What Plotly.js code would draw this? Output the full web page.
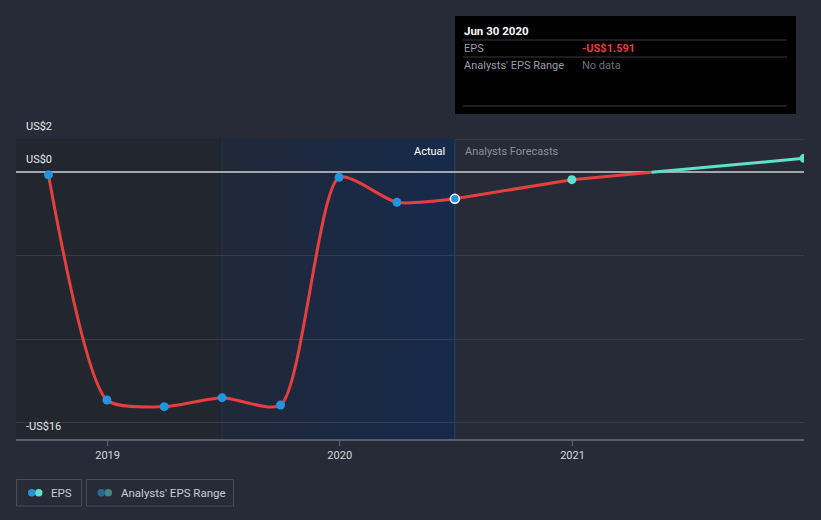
<!DOCTYPE html>
<html>
<head>
<meta charset="utf-8">
<script src="https://cdn.plot.ly/plotly-3.0.1.min.js"></script>
<style>
html,body{margin:0;padding:0;background:#262b37;}
#chart{width:821px;height:520px;}
</style>
</head>
<body>
<div id="chart"></div>
<script>
// ---- data ----
const actualDates = ['2018-09-30','2018-12-31','2019-03-31','2019-06-30','2019-09-30','2019-12-31','2020-03-31','2020-06-30'];
const actualEPS   = [-0.15, -13.66, -14.06, -13.52, -13.96, -0.30, -1.80, -1.591];
const forecastDates = ['2020-12-31','2021-12-31'];
const forecastEPS   = [-0.44, 0.84];
const xTickVals = ['2019-01-01','2020-01-01','2021-01-01'];
const xTickText = ['2019','2020','2021'];
const yGridVals = [-15, -10, -5, 0, 2];
const yLabelVals = [2, 0, -16];
const yLabelText = ['US$2','US$0','-US$16'];
const pastYearStart = '2019-06-30';
const lastActual = '2020-06-30';
const xStart = '2018-08-10';
const xEnd = '2021-12-31';
const yMin = -16, yMax = 2;
const tipTitle = 'Jun 30 2020';
const tipRows = ['EPS', "Analysts' EPS Range"];
const tipVals = ['-US$1.591', 'No data'];
const legendNames = ['EPS', "Analysts' EPS Range"];

// ---- geometry helpers (plot area in pixels) ----
const L = 16, R = 804, T = 139, B = 439;
const px = x => (x - L) / (R - L);
const py = y => (B - y) / (B - T);

// forecast path, split at zero crossing for colouring
const fx = [lastActual].concat(forecastDates);
const fy = [actualEPS[actualEPS.length - 1]].concat(forecastEPS);
let redX = [fx[0]], redY = [fy[0]], tealX = [], tealY = [];
for (let i = 1; i < fx.length; i++) {
  if (fy[i - 1] < 0 && fy[i] >= 0) {
    const t0 = new Date(fx[i - 1]).getTime(), t1 = new Date(fx[i]).getTime();
    const f = -fy[i - 1] / (fy[i] - fy[i - 1]);
    const tc = new Date(t0 + f * (t1 - t0)).toISOString().slice(0, 19);
    redX.push(tc); redY.push(0);
    tealX.push(tc); tealY.push(0);
    tealX.push(fx[i]); tealY.push(fy[i]);
  } else if (fy[i] < 0) { redX.push(fx[i]); redY.push(fy[i]); }
  else { tealX.push(fx[i]); tealY.push(fy[i]); }
}

const RED = '#e5403f', TEAL = '#5fe0c9', BLUE = '#2394df';

const traces = [
  {
    x: redX, y: redY, mode: 'lines', line: {color: RED, width: 3},
    hoverinfo: 'skip', showlegend: false
  },
  {
    x: tealX, y: tealY, mode: 'lines', line: {color: TEAL, width: 3},
    hoverinfo: 'skip', showlegend: false
  },
  {
    x: actualDates, y: actualEPS, mode: 'lines',
    line: {color: RED, width: 3, shape: 'spline', smoothing: 0.65},
    hoverinfo: 'skip', showlegend: false
  },
  {
    x: actualDates, y: actualEPS, mode: 'markers',
    marker: {color: BLUE, size: 9,
      line: {color: actualDates.map((d, i) => i === actualDates.length - 1 ? '#ffffff' : BLUE), width: actualDates.map((d, i) => i === actualDates.length - 1 ? 1.5 : 0)}},
    hoverinfo: 'skip', showlegend: false
  },
  {
    x: forecastDates, y: forecastEPS, mode: 'markers',
    marker: {color: TEAL, size: 9},
    hoverinfo: 'skip', showlegend: false
  }
];

const shapes = [
  // darker area before the past-year highlight
  {type: 'rect', xref: 'x', yref: 'y', x0: xStart, x1: pastYearStart, y0: yMin, y1: yMax,
   fillcolor: '#21262f', line: {width: 0}, layer: 'below'}
];
// past-year highlight as a horizontal gradient made of strips
(function () {
  const t0 = new Date(pastYearStart).getTime(), t1 = new Date(lastActual).getTime();
  const c0 = [33, 41, 57], c1 = [22, 42, 76];
  const n = 24;
  for (let k = 0; k < n; k++) {
    const a = t0 + (t1 - t0) * k / n, b = t0 + (t1 - t0) * (k + 1) / n + 86400000;
    const f = (k + 0.5) / n;
    const c = c0.map((v, j) => Math.round(v + (c1[j] - v) * f));
    shapes.push({type: 'rect', xref: 'x', yref: 'y',
      x0: new Date(a).toISOString().slice(0, 19), x1: new Date(Math.min(b, t1)).toISOString().slice(0, 19),
      y0: yMin, y1: yMax, fillcolor: 'rgb(' + c.join(',') + ')', line: {width: 0}, layer: 'below'});
  }
})();
shapes.push(
  {type: 'line', xref: 'x', yref: 'y', x0: pastYearStart, x1: pastYearStart, y0: yMin, y1: yMax,
   line: {color: '#27324a', width: 1}, layer: 'below'},
  {type: 'line', xref: 'x', yref: 'y', x0: lastActual, x1: lastActual, y0: yMin, y1: yMax,
   line: {color: '#2c4468', width: 1}, layer: 'below'},
  // top gridline
  {type: 'line', xref: 'paper', yref: 'y', x0: 0, x1: 1, y0: yMax, y1: yMax,
   line: {color: '#3f4450', width: 1.2}, layer: 'below'},
  // tooltip box
  {type: 'rect', xref: 'paper', yref: 'paper', x0: px(455), x1: px(796), y0: py(16), y1: py(114),
   fillcolor: '#000000', line: {width: 0}},
  {type: 'line', xref: 'paper', yref: 'paper', x0: px(463), x1: px(787), y0: py(40), y1: py(40), line: {color: '#3c3c3c', width: 1}},
  {type: 'line', xref: 'paper', yref: 'paper', x0: px(463), x1: px(787), y0: py(57), y1: py(57), line: {color: '#3c3c3c', width: 1}},
  {type: 'line', xref: 'paper', yref: 'paper', x0: px(463), x1: px(787), y0: py(106), y1: py(106), line: {color: '#3c3c3c', width: 1}},
  // legend boxes
  {type: 'rect', xref: 'paper', yref: 'paper', x0: px(16.5), x1: px(81.5), y0: py(479.5), y1: py(506),
   line: {color: '#474d59', width: 1}, fillcolor: 'rgba(0,0,0,0)'},
  {type: 'rect', xref: 'paper', yref: 'paper', x0: px(86.5), x1: px(233.5), y0: py(479.5), y1: py(506),
   line: {color: '#474d59', width: 1}, fillcolor: 'rgba(0,0,0,0)'},
  // legend icons
  {type: 'circle', xref: 'paper', yref: 'paper', x0: px(35), x1: px(42.5), y0: py(489), y1: py(496.5), fillcolor: TEAL, line: {width: 0}},
  {type: 'circle', xref: 'paper', yref: 'paper', x0: px(28), x1: px(35.5), y0: py(489), y1: py(496.5), fillcolor: BLUE, line: {width: 0}},
  {type: 'circle', xref: 'paper', yref: 'paper', x0: px(104.5), x1: px(112), y0: py(489), y1: py(496.5), fillcolor: '#3f8a86', line: {width: 0}},
  {type: 'circle', xref: 'paper', yref: 'paper', x0: px(97.5), x1: px(105), y0: py(489), y1: py(496.5), fillcolor: '#2b6890', line: {width: 0}}
);

const FONT = 'Roboto, "Open Sans", sans-serif';
const annotations = [];
yLabelVals.forEach((v, i) => annotations.push({
  xref: 'paper', yref: 'y', x: px(24), y: v, yshift: 13, xanchor: 'left', yanchor: 'middle',
  text: yLabelText[i], showarrow: false, font: {family: FONT, size: 11, color: '#e6e8eb'}
}));
annotations.push({xref: 'paper', yref: 'paper', x: px(447), y: py(151), xanchor: 'right', yanchor: 'middle',
  text: 'Actual', showarrow: false, font: {family: FONT, size: 11, color: '#ffffff'}});
annotations.push({xref: 'paper', yref: 'paper', x: px(463), y: py(151), xanchor: 'left', yanchor: 'middle',
  text: 'Analysts Forecasts', showarrow: false, font: {family: FONT, size: 11, color: '#8b909a'}});
// tooltip texts
annotations.push({xref: 'paper', yref: 'paper', x: px(462), y: py(31), xanchor: 'left', yanchor: 'middle',
  text: '<b>' + tipTitle + '</b>', showarrow: false, font: {family: FONT, size: 11.5, color: '#ffffff'}});
tipRows.forEach((r, i) => {
  annotations.push({xref: 'paper', yref: 'paper', x: px(462), y: py(48 + 17 * i), xanchor: 'left', yanchor: 'middle',
    text: r, showarrow: false, font: {family: FONT, size: 11, color: '#9a9ea6'}});
  annotations.push({xref: 'paper', yref: 'paper', x: px(580), y: py(48 + 17 * i), xanchor: 'left', yanchor: 'middle',
    text: i === 0 ? '<b>' + tipVals[i] + '</b>' : tipVals[i], showarrow: false,
    font: {family: FONT, size: 11, color: i === 0 ? '#e5403f' : '#6f737a'}});
});
// legend texts
annotations.push({xref: 'paper', yref: 'paper', x: px(49), y: py(493), xanchor: 'left', yanchor: 'middle',
  text: legendNames[0], showarrow: false, font: {family: FONT, size: 11.5, color: '#c9cdd3'}});
annotations.push({xref: 'paper', yref: 'paper', x: px(119), y: py(493), xanchor: 'left', yanchor: 'middle',
  text: legendNames[1], showarrow: false, font: {family: FONT, size: 11.5, color: '#c9cdd3'}});

const layout = {
  width: 821, height: 520,
  margin: {l: L, r: 821 - R, t: T, b: 520 - B, pad: 0},
  paper_bgcolor: '#262b37', plot_bgcolor: '#262b37',
  font: {family: FONT, size: 11, color: '#d0d4da'},
  showlegend: false,
  hovermode: false,
  xaxis: {
    type: 'date', range: [xStart, xEnd],
    tickvals: xTickVals, ticktext: xTickText,
    ticks: 'outside', ticklen: 5, tickcolor: '#5b616c', tickwidth: 1,
    showline: true, linecolor: '#5b616c', linewidth: 1.5,
    showgrid: false, zeroline: false,
    tickfont: {family: FONT, size: 11, color: '#d4d7dc'}
  },
  yaxis: {
    range: [yMin, yMax], tickvals: yGridVals, showticklabels: false,
    showgrid: true, gridcolor: '#383d49', gridwidth: 1,
    zeroline: true, zerolinecolor: '#a3a6ab', zerolinewidth: 2,
    showline: false, ticks: ''
  },
  shapes: shapes,
  annotations: annotations
};

Plotly.newPlot('chart', traces, layout, {displayModeBar: false, staticPlot: true});
</script>
</body>
</html>
